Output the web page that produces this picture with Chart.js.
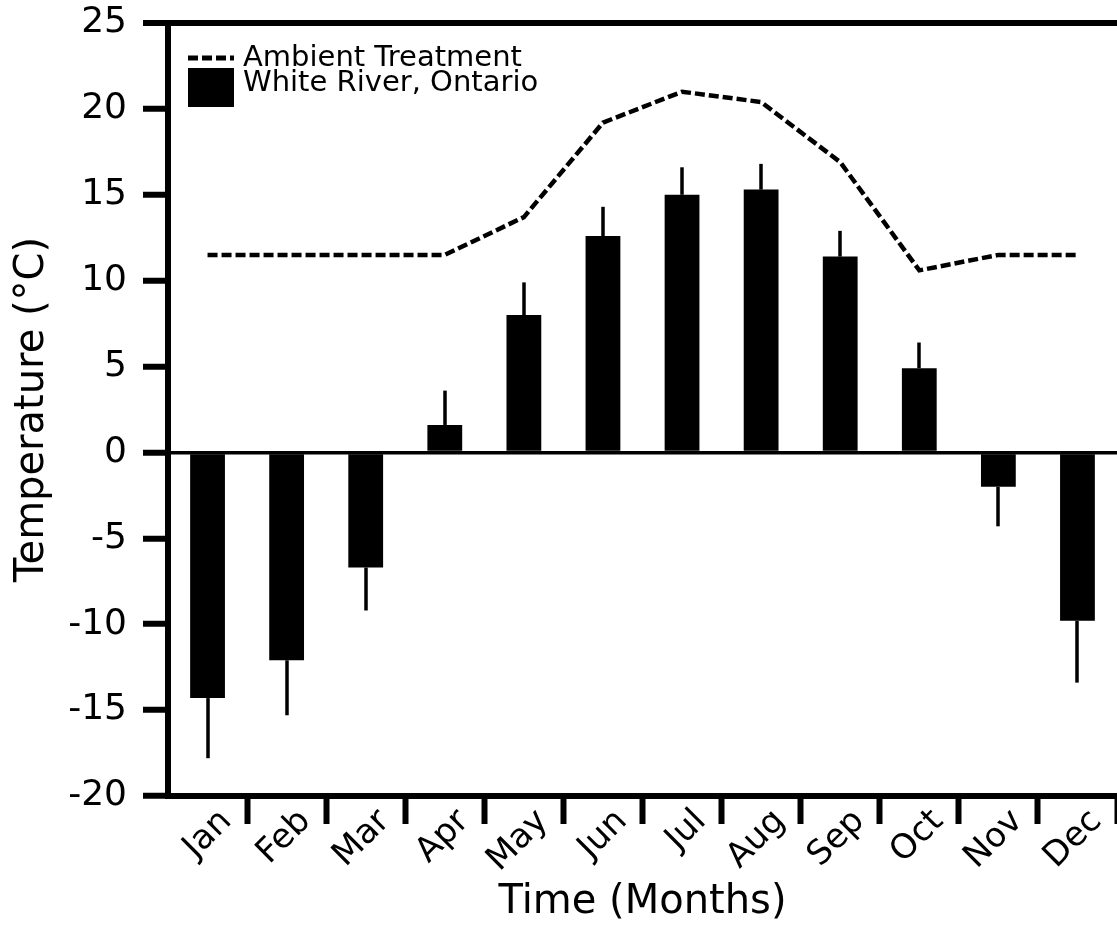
<!DOCTYPE html>
<html>
<head>
<meta charset="utf-8">
<script src="https://cdn.jsdelivr.net/npm/chart.js@4.4.0/dist/chart.umd.min.js"></script>
<style>
    html, body { margin: 0; padding: 0; background: #fff; }
</style>
</head>
<body>
<canvas id="tempChart" width="1117" height="928"></canvas>
<script>
// --- data ---
const months = ['Jan', 'Feb', 'Mar', 'Apr', 'May', 'Jun', 'Jul', 'Aug', 'Sep', 'Oct', 'Nov', 'Dec'];
const whiteRiver = [-14.3, -12.1, -6.7, 1.6, 8.0, 12.6, 15.0, 15.3, 11.4, 4.9, -2.0, -9.8];
const whiteRiverErr = [3.5, 3.2, 2.5, 2.0, 1.9, 1.7, 1.6, 1.5, 1.5, 1.5, 2.3, 3.6];
const ambient = [11.5, 11.5, 11.5, 11.5, 13.7, 19.2, 21.0, 20.4, 16.9, 10.6, 11.5, 11.5];
const yTicks = [-20, -15, -10, -5, 0, 5, 10, 15, 20, 25];

const FONT = 'DejaVu Sans';
Chart.defaults.font.family = FONT;
Chart.defaults.color = '#000';

// one-sided error bars, drawn away from zero
const errorBars = {
    id: 'errorBars',
    afterDatasetsDraw(chart) {
        const meta = chart.getDatasetMeta(0);
        const yScale = chart.scales.y;
        const ctx = chart.ctx;
        ctx.save();
        ctx.strokeStyle = '#000';
        ctx.lineWidth = 3.5;
        meta.data.forEach((bar, i) => {
            const v = whiteRiver[i];
            const end = v + Math.sign(v) * whiteRiverErr[i];
            const x = Math.round(bar.x);
            ctx.beginPath();
            ctx.moveTo(x, yScale.getPixelForValue(v));
            ctx.lineTo(x, yScale.getPixelForValue(end));
            ctx.stroke();
        });
        ctx.restore();
    }
};

// rotated month labels + legend in the top-left corner
const extras = {
    id: 'extras',
    afterDraw(chart) {
        const ctx = chart.ctx;
        const area = chart.chartArea;
        const xScale = chart.scales.x;
        ctx.save();
        ctx.fillStyle = '#000';
        ctx.font = '34px "' + FONT + '"';
        ctx.textAlign = 'right';
        ctx.textBaseline = 'middle';
        months.forEach((m, i) => {
            const x = xScale.getPixelForValue(i) + 19;
            ctx.save();
            ctx.translate(x, area.bottom + 20);
            ctx.rotate(-Math.PI / 4);
            ctx.fillText(m, 0, 0);
            ctx.restore();
        });

        // legend
        const lx = area.left + 20;
        const ds = chart.data.datasets;
        ctx.strokeStyle = '#000';
        ctx.lineWidth = 5;
        ctx.setLineDash(ds[1].borderDash);
        ctx.beginPath();
        ctx.moveTo(lx, area.top + 35);
        ctx.lineTo(lx + 46, area.top + 35);
        ctx.stroke();
        ctx.setLineDash([]);
        ctx.fillRect(lx, area.top + 45, 46, 39);

        ctx.font = '29px "' + FONT + '"';
        ctx.textAlign = 'left';
        ctx.textBaseline = 'alphabetic';
        ctx.fillText(ds[1].label, lx + 55, area.top + 43);
        ctx.fillText(ds[0].label, lx + 55, area.top + 68);
        ctx.restore();
    }
};

const ctx = document.getElementById('tempChart').getContext('2d');
new Chart(ctx, {
    data: {
        labels: months,
        datasets: [{
            type: 'bar',
            label: 'White River, Ontario',
            data: whiteRiver,
            backgroundColor: '#000',
            borderWidth: 0,
            barPercentage: 0.44,
            categoryPercentage: 1.0
        }, {
            type: 'line',
            label: 'Ambient Treatment',
            data: ambient,
            borderColor: '#000',
            borderWidth: 4.5,
            borderDash: [10, 4],
            pointRadius: 0,
            tension: 0,
            fill: false
        }]
    },
    options: {
        responsive: false,
        devicePixelRatio: 1,
        animation: false,
        layout: { padding: { top: 23, right: -4, bottom: 0, left: 0 } },
        plugins: {
            legend: { display: false },
            tooltip: { enabled: false }
        },
        scales: {
            x: {
                type: 'category',
                offset: true,
                afterFit: scale => { scale.height = 132; },
                border: { display: true, color: '#000', width: 6 },
                grid: {
                    offset: true,
                    drawOnChartArea: false,
                    drawTicks: true,
                    tickLength: 28,
                    tickWidth: 6,
                    tickColor: c => c.index === 0 ? 'rgba(0,0,0,0)' : '#000'
                },
                ticks: { display: false },
                title: {
                    display: true,
                    text: 'Time (Months)',
                    font: { size: 40 },
                    padding: { top: 0, bottom: 1 }
                }
            },
            y: {
                min: -20,
                max: 25,
                afterBuildTicks: axis => { axis.ticks = yTicks.map(v => ({ value: v })); },
                afterFit: scale => {
                    scale.width = 168;
                    scale.paddingTop = 0;
                    scale.paddingBottom = 0;
                },
                border: { display: true, color: '#000', width: 6 },
                grid: {
                    drawOnChartArea: true,
                    color: c => (c.tick && (c.tick.value === 25 || c.tick.value === 0)) ? '#000' : 'rgba(0,0,0,0)',
                    lineWidth: c => (c.tick && c.tick.value === 25) ? 6 : 3.5,
                    tickLength: 25,
                    tickWidth: 6,
                    tickColor: '#000'
                },
                ticks: {
                    font: { size: 36 },
                    padding: 16
                },
                title: {
                    display: true,
                    text: 'Temperature (°C)',
                    font: { size: 40 },
                    padding: { top: 9, bottom: 0 }
                }
            }
        }
    },
    plugins: [errorBars, extras]
});
</script>
</body>
</html>
